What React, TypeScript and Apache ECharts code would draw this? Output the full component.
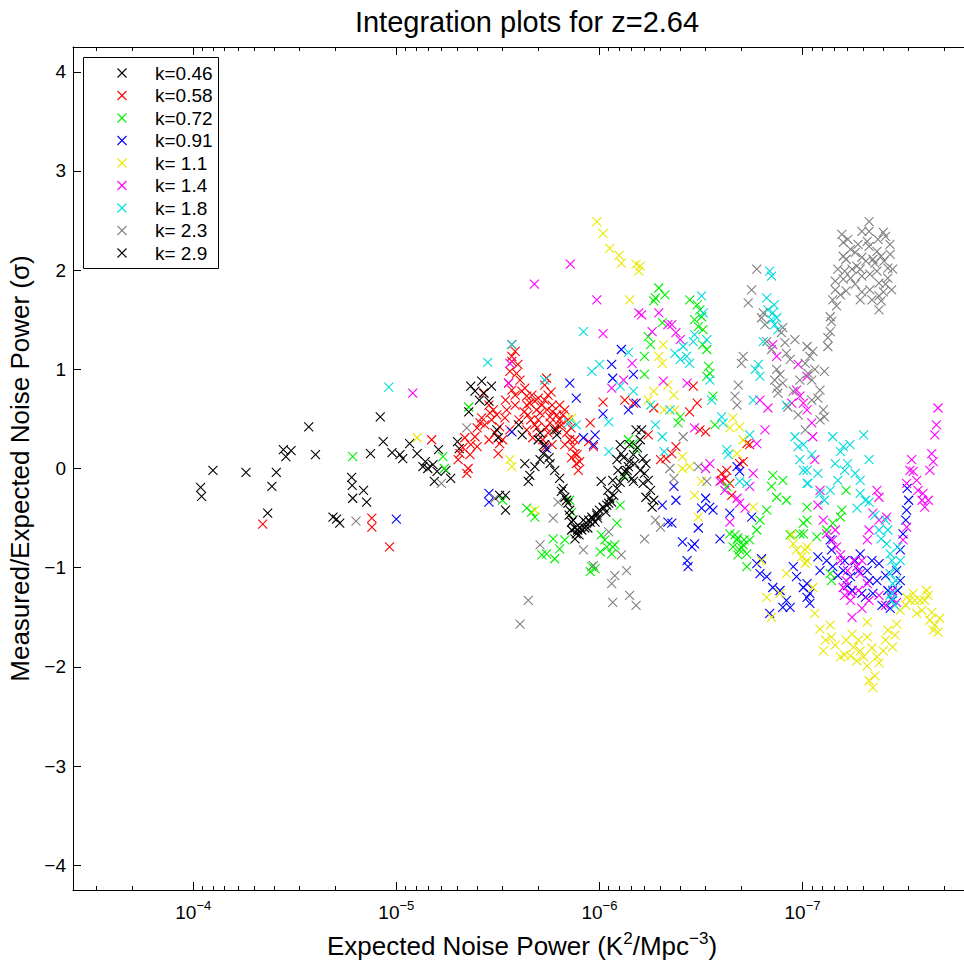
import React, { useEffect, useRef } from 'react';
import * as echarts from 'echarts';

const seriesNames = ['k=0.46', 'k=0.58', 'k=0.72', 'k=0.91', 'k= 1.1', 'k= 1.4', 'k= 1.8', 'k= 2.3', 'k= 2.9'];
const seriesColors = ['#000000', '#ff0000', '#00f000', '#0000ff', '#e8e800', '#ff00ff', '#00dcdc', '#808080', '#000000'];
const xMajorTicks = [1e-4, 1e-5, 1e-6, 1e-7];
const yTicks = [-4, -3, -2, -1, 0, 1, 2, 3, 4];

type Pt = [number, number];

const k046: Pt[] = [
  [9.2e-5, -0.19], [9.1e-5, -0.28], [8.0e-5, -0.02], [5.5e-5, -0.04], [3.9e-5, -0.04], [4.1e-5, -0.18], [4.3e-5, -0.45],
  [3.6e-5, 0.19], [3.3e-5, 0.18], [3.5e-5, 0.12], [2.7e-5, 0.42], [2.5e-5, 0.14], [1.66e-5, -0.09], [1.65e-5, -0.17],
  [1.45e-5, -0.22], [1.64e-5, -0.30], [1.4e-5, -0.34], [2.05e-5, -0.49], [1.97e-5, -0.51], [1.9e-5, -0.55], [1.2e-5, 0.52],
  [1.16e-5, 0.27], [1.34e-5, 0.15], [1.05e-5, 0.16], [9.6e-6, 0.14], [9.3e-6, 0.10], [8.6e-6, 0.25], [7.9e-6, 0.15],
  [7.2e-6, 0.07], [7.4e-6, 0.02], [7.0e-6, 0.0], [6.6e-6, 0.04], [6.3e-6, -0.03], [6.5e-6, -0.13], [6.2e-6, 0.19],
  [5.7e-6, -0.02], [5.4e-6, -0.10], [5.0e-6, 0.27], [4.9e-6, 0.20],
];

const k058: Pt[] = [
  [4.55e-5, -0.56], [1.32e-5, -0.50], [1.32e-5, -0.59], [1.08e-5, -0.79], [6.7e-6, 0.29], [2.7e-6, 1.25], [2.7e-6, 1.13],
  [2.8e-6, 0.86], [2.56e-6, 0.96], [2.46e-6, 0.89], [2.41e-6, 0.78], [2.28e-6, 0.73], [2.2e-6, 0.66], [2.08e-6, 0.68],
  [2.04e-6, 0.59], [1.96e-6, 0.56], [1.82e-6, 0.91], [1.86e-6, 0.84], [1.75e-6, 0.52], [1.62e-6, 0.54], [1.48e-6, 0.59],
  [2.86e-6, 0.59], [3.46e-6, 0.56], [3.73e-6, 0.76], [3.33e-6, 0.59], [9.6e-7, 0.67], [7.5e-7, 0.69], [6.8e-7, 0.66],
  [3.87e-6, 0.46], [4.0e-6, 0.41], [4.6e-6, 0.31], [4.3e-6, 0.24], [4.0e-6, 0.22], [4.86e-6, 0.15], [4.96e-6, 0.09],
  [4.43e-6, 0.0], [4.5e-6, -0.05], [3.1e-6, 0.42], [3.27e-6, 0.36], [3.1e-6, 0.25], [3.15e-6, 0.15], [2.08e-6, 0.44],
  [1.75e-6, 0.46], [1.62e-6, 0.39], [1.54e-6, 0.44], [1.45e-6, 0.36], [1.35e-6, 0.22], [1.32e-6, 0.15], [1.3e-6, 0.05],
  [1.27e-6, -0.02], [1.11e-6, 0.46], [1.13e-6, 0.27], [1.07e-6, 0.22], [1.86e-6, 0.69], [1.71e-6, 0.64], [1.57e-6, 0.49],
  [2.25e-6, 0.54], [2.0e-6, 0.49], [1.83e-6, 0.41], [1.4e-6, 0.29], [2.6e-6, 0.74], [2.9e-6, 0.69], [3.8e-6, 0.51],
  [3.5e-6, 0.64], [2.7e-6, 1.08], [2.76e-6, 0.98], [5.4e-7, 0.61], [3.6e-7, 0.57], [3.45e-7, 0.83], [3.3e-7, 0.66],
  [5.75e-7, 0.34], [4.7e-7, 0.10], [4.4e-7, 0.15], [4.2e-7, 0.22], [5.0e-7, 0.09], [3.2e-7, 0.39], [3.0e-7, 0.37],
  [2.5e-7, -0.05], [2.4e-7, -0.10], [2.36e-7, -0.02], [2.28e-7, -0.15], [2.04e-7, 0.05], [1.96e-7, 0.07], [1.82e-7, 0.24],
  [1.88e-7, 0.25], [2.5e-7, -0.12], [2.23e-7, -0.27],
  [2.6e-6, 1.18], [2.52e-6, 1.05], [2.7e-6, 0.79], [2.33e-6, 0.81], [2.15e-6, 0.74], [2.28e-6, 0.64], [2.0e-6, 0.71],
  [1.92e-6, 0.64], [1.79e-6, 0.74], [1.73e-6, 0.77], [1.81e-6, 0.59], [1.7e-6, 0.57], [1.57e-6, 0.64], [1.51e-6, 0.54],
  [1.43e-6, 0.49], [1.6e-6, 0.44], [1.79e-6, 0.36], [1.9e-6, 0.29], [2.03e-6, 0.41], [2.18e-6, 0.49], [2.35e-6, 0.57],
  [2.49e-6, 0.49], [2.6e-6, 0.64], [1.38e-6, 0.41], [1.32e-6, 0.29], [1.29e-6, 0.14], [1.25e-6, 0.07], [1.37e-6, 0.11],
  [1.86e-6, 0.21], [1.71e-6, 0.24], [1.48e-6, 0.24], [2.13e-6, 0.31], [2.28e-6, 0.39], [3.2e-6, 0.54], [3.67e-6, 0.44],
  [4.1e-6, 0.32], [4.34e-6, 0.14], [4.7e-6, 0.21], [3.5e-6, 0.29], [3.4e-6, 0.49], [2.92e-6, 0.51], [2.76e-6, 0.39],
  [3.0e-6, 0.29],
];

const k072: Pt[] = [
  [1.64e-5, 0.12], [4.4e-6, 0.62], [5.9e-6, 0.12], [5.8e-6, 0.0], [3.0e-6, -0.32], [2.28e-6, -0.40], [2.08e-6, -0.49],
  [2.16e-6, -0.44], [1.4e-6, -0.32], [1.37e-6, -0.44], [1.69e-6, -0.71], [1.57e-6, -0.81], [1.48e-6, -0.72], [1.92e-6, -0.87],
  [1.82e-6, -0.86], [1.66e-6, -0.91], [1.09e-6, -0.99], [1.05e-6, -1.01], [1.11e-6, -1.04], [9.8e-7, -0.67], [9.4e-7, -0.72],
  [9.9e-7, -0.84], [9.2e-7, -0.79], [8.6e-7, -0.79], [8.7e-7, -0.86], [8.2e-7, -0.55], [7.9e-7, -0.37], [8.4e-7, -0.77],
  [7.2e-7, 0.29], [6.8e-7, 0.25], [7.6e-7, -0.07], [6.6e-7, 0.19], [5.1e-7, 1.82], [5.3e-7, 1.72], [5.4e-7, 1.69],
  [4.9e-7, 1.47], [5.75e-7, 1.33], [5.6e-7, 1.25], [6.0e-7, 1.13], [6.0e-7, 0.95], [3.3e-7, 1.65], [3.2e-7, 1.60],
  [3.4e-7, 1.50], [3.26e-7, 1.43], [3.14e-7, 1.53], [3.1e-7, 1.25], [2.96e-7, 1.20], [2.9e-7, 1.03], [2.86e-7, 0.96],
  [2.96e-7, 0.93], [2.76e-7, 0.73], [4.0e-7, 0.52], [4.1e-7, 0.46], [2.7e-7, 0.44], [2.36e-7, -0.18], [1.4e-7, -0.07],
  [1.42e-7, -0.18], [1.25e-7, -0.12], [1.34e-7, -0.29], [1.2e-7, -0.32], [1.5e-7, -0.42], [1.62e-7, -0.52], [1.68e-7, -0.62],
  [2.1e-7, -0.72], [2.04e-7, -0.82], [2.2e-7, -0.79], [1.96e-7, -0.77], [1.88e-7, -0.86], [2.28e-7, -0.66], [1.88e-7, -0.99],
  [2.08e-7, -0.70], [1.94e-7, -0.72], [9.5e-8, -0.39], [9.9e-8, -0.55], [1.03e-7, -0.66], [1.15e-7, -0.67], [6.1e-8, -0.22],
  [6.5e-8, -0.49], [7.1e-8, -0.55], [7.6e-8, -0.62], [9.5e-8, -0.52], [9.9e-8, -0.66], [7.3e-8, -1.06], [7.2e-8, -1.13],
  [8.5e-8, -0.69], [6.4e-8, -0.42],
  [2.15e-7, -0.67], [1.99e-7, -0.80], [1.82e-7, -0.72], [2.08e-7, -0.87], [3.09e-7, 1.40], [3.59e-7, 1.70], [4.76e-7, 1.75],
];

const k091: Pt[] = [
  [1.0e-5, -0.51], [1.4e-6, 0.86], [1.3e-6, 0.71], [7.8e-7, 1.20], [8.7e-7, 1.05], [8.6e-7, 0.91], [6.8e-7, 0.95],
  [9.6e-7, 0.55], [7.2e-7, 0.59], [6.6e-7, 0.66], [2.7e-6, 0.37], [1.82e-6, 0.20], [1.2e-6, 0.31], [1.07e-6, 0.24],
  [1.05e-6, 0.34], [3.5e-6, -0.25], [3.5e-6, -0.34], [4.3e-7, -0.18], [4.2e-7, -0.32], [4.9e-7, -0.37], [4.6e-7, -0.54],
  [4.4e-7, -0.55], [3.26e-7, -0.60], [3.9e-7, -0.74], [3.5e-7, -0.79], [3.4e-7, -0.76], [3.7e-7, -0.93], [3.66e-7, -0.99],
  [3.0e-7, -0.30], [2.86e-7, -0.39], [2.76e-7, -0.42], [3.14e-7, -0.40], [2.55e-7, -0.71], [2.28e-7, -0.45], [2.1e-7, 0.02],
  [2.04e-7, -0.03], [1.78e-7, -0.49], [1.59e-7, -0.91], [1.68e-7, -0.96], [1.62e-7, -1.06], [1.5e-7, -1.09], [1.4e-7, -1.20],
  [1.29e-7, -1.23], [1.2e-7, -1.33], [1.25e-7, -1.40], [1.15e-7, -1.40], [1.45e-7, -1.46], [1.07e-7, -1.09], [9.9e-8, -1.20],
  [9.5e-8, -1.30], [1.11e-7, -0.99], [3.07e-8, -0.42], [3.1e-8, -0.52], [3.2e-8, -0.66], [3.3e-8, -0.82], [3.44e-8, -1.03],
  [3.6e-8, -1.33], [3.7e-8, -1.41], [4.2e-8, -0.96], [4.3e-8, -1.13], [4.5e-8, -1.26], [4.8e-8, -1.03], [5.2e-8, -0.86],
  [5.5e-8, -0.93], [5.8e-8, -1.09], [6.3e-8, -1.03], [7.1e-8, -0.99], [7.6e-8, -0.93], [8.2e-8, -1.03], [8.4e-8, -0.89],
  [7.3e-8, -0.72], [7.2e-8, -0.82], [9.5e-8, -1.16], [9.2e-8, -1.26], [9.2e-8, -1.36], [5.1e-8, -1.26], [4.9e-8, -1.30],
  [6.7e-8, -1.08], [6.0e-8, -1.18], [4.7e-8, -1.13], [3.9e-8, -1.08], [3.4e-8, -1.23], [3.0e-8, -0.32], [3.05e-8, -0.20],
  [6.2e-8, -0.93], [5.3e-8, -1.03], [4.55e-8, -0.93], [3.8e-8, -1.23], [3.3e-8, -1.13], [5.7e-8, -1.23], [4.06e-8, -1.38],
];

const k11: Pt[] = [
  [7.9e-6, 0.31], [1.03e-6, 2.49], [9.6e-7, 2.37], [8.9e-7, 2.22], [8.0e-7, 2.15], [7.8e-7, 2.07], [6.6e-7, 2.06],
  [6.4e-7, 1.99], [7.1e-7, 1.70], [1.37e-6, 0.51], [2.76e-6, 0.09], [2.7e-6, 0.02], [2.08e-6, -0.42], [6.3e-7, 2.04],
  [4.85e-7, 1.25], [5.1e-7, 1.13], [4.9e-7, 1.06], [4.6e-7, 0.84], [5.4e-7, 0.78], [5.75e-7, 0.69], [4.3e-7, 0.74],
  [4.8e-7, 0.59], [4.25e-7, 0.59], [2.2e-7, 0.51], [3.9e-7, 0.12], [3.6e-7, 0.02], [3.9e-7, 0.0], [3.4e-7, -0.27],
  [3.26e-7, -0.49], [3.14e-7, -0.13], [2.28e-7, 0.41], [2.04e-7, 0.42], [1.96e-7, 0.29], [2.1e-7, 0.15], [1.75e-7, -0.39],
  [1.59e-7, -0.93], [1.5e-7, -1.30], [1.42e-7, -1.50], [1.29e-7, -1.26], [1.2e-7, -1.06], [1.13e-7, -0.67], [1.11e-7, -0.76],
  [1.07e-7, -0.82], [1.01e-7, -0.89], [9.5e-8, -0.79], [9.7e-8, -0.96], [9.7e-8, -0.82], [9.5e-8, -0.93], [8.9e-8, -1.20],
  [8.7e-8, -1.46], [8.2e-8, -1.62], [7.3e-8, -1.58], [7.2e-8, -1.70], [7.9e-8, -1.84], [6.5e-8, -1.90], [6.1e-8, -1.73],
  [5.6e-8, -1.80], [5.2e-8, -1.84], [4.8e-8, -1.70], [5.0e-8, -1.90], [4.3e-8, -1.90], [4.0e-8, -1.84], [3.6e-8, -1.80],
  [3.8e-8, -1.63], [3.44e-8, -1.57], [3.3e-8, -1.43], [3.07e-8, -1.30], [2.85e-8, -1.26], [2.64e-8, -1.33], [2.74e-8, -1.46],
  [2.45e-8, -1.23], [2.36e-8, -1.53], [2.27e-8, -1.63], [4.7e-8, -2.14], [4.5e-8, -2.21], [5.7e-8, -1.67], [4.8e-8, -1.55],
  [2.23e-8, -1.58], [2.15e-8, -1.65], [2.5e-8, -1.33], [2.96e-8, -1.33], [6.2e-8, -1.88], [5.4e-8, -1.94], [4.2e-8, -1.96],
  [4.8e-8, -1.99],
  [6.9e-8, -1.78], [5.8e-8, -1.89], [5.3e-8, -1.73], [4.55e-8, -1.81], [3.9e-8, -1.73], [3.5e-8, -1.68], [3.1e-8, -1.38],
  [2.8e-8, -1.33], [2.58e-8, -1.43], [2.41e-8, -1.28], [2.31e-8, -1.45], [2.11e-8, -1.51], [4.4e-8, -2.09], [7.7e-8, -1.73],
];

const k14: Pt[] = [
  [8.3e-6, 0.76], [1.39e-6, 2.06], [2.09e-6, 1.86], [1.03e-6, 1.70], [9.6e-7, 1.36], [6.4e-7, 1.57], [2.76e-6, 1.06],
  [2.8e-6, 0.86], [8.7e-7, 0.81], [7.6e-7, 0.89], [6.9e-7, 1.06], [6.2e-7, 1.55], [5.1e-7, 1.57], [5.5e-7, 1.38],
  [4.6e-7, 1.45], [4.4e-7, 1.45], [4.2e-7, 1.37], [4.0e-7, 1.30], [4.85e-7, 0.88], [3.7e-7, 0.86], [1.62e-7, 0.69],
  [1.48e-7, 0.61], [1.4e-7, 1.25], [1.34e-7, 1.13], [1.05e-7, 1.05], [1.07e-7, 0.79], [1.03e-7, 0.73], [1.13e-7, 0.66],
  [9.5e-8, 0.93], [3.4e-7, 0.41], [3.0e-7, 0.0], [2.86e-7, 0.05], [2.55e-7, -0.13], [2.41e-7, -0.22], [2.04e-7, -0.35],
  [1.92e-7, -0.40], [1.82e-7, -0.18], [1.75e-7, -0.05], [1.68e-7, 0.25], [1.53e-7, 0.39], [2.28e-7, -0.54], [2.1e-7, -0.30],
  [9.9e-8, 0.66], [9.5e-8, 0.59], [2.15e-8, 0.61], [9.0e-8, 0.46], [8.9e-8, 0.32], [8.7e-8, 0.09], [2.19e-8, 0.44],
  [2.23e-8, 0.34], [2.31e-8, 0.15], [2.27e-8, 0.07], [2.9e-8, 0.09], [2.85e-8, -0.03], [3.07e-8, -0.15], [2.74e-8, -0.12],
  [2.55e-8, -0.25], [2.4e-8, -0.32], [2.5e-8, -0.39], [4.3e-8, -0.22], [4.2e-8, -0.29], [4.5e-8, -0.45], [4.7e-8, -0.62],
  [4.8e-8, -0.72], [4.2e-8, -0.52], [3.85e-8, -0.49], [7.9e-8, -0.52], [7.6e-8, -0.66], [7.1e-8, -0.72], [6.8e-8, -0.79],
  [5.6e-8, -0.93], [5.4e-8, -0.99], [5.2e-8, -1.06], [6.1e-8, -1.13], [6.3e-8, -1.20], [5.8e-8, -1.26], [5.8e-8, -1.33],
  [5.7e-8, -1.50], [5.1e-8, -1.41], [4.8e-8, -1.16], [3.6e-8, -1.23], [3.64e-8, -1.31], [3.44e-8, -1.35], [3.2e-8, -0.72],
  [3.07e-8, -0.59], [8.2e-8, -0.22], [8.4e-8, -0.37], [6.5e-8, -0.93], [6.2e-8, -1.28],
  [2.7e-8, -0.22], [2.58e-8, -0.32], [2.96e-8, -0.02], [2.36e-8, -0.02], [6.5e-8, -0.87], [6.0e-8, -1.03], [5.3e-8, -1.23],
  [4.7e-8, -1.33], [4.2e-8, -1.28], [3.9e-8, -1.38], [5.1e-8, -0.93], [6.9e-8, -0.62],
];

const k18: Pt[] = [
  [1.09e-5, 0.82], [3.55e-6, 1.07], [1.2e-6, 1.38], [1.09e-6, 0.98], [1.0e-6, 1.05], [7.2e-7, 1.17], [6.8e-7, 0.78],
  [7.9e-7, 0.83], [2.7e-6, 1.25], [1.86e-6, 0.89], [1.42e-6, 0.46], [1.3e-6, 0.44], [9.0e-7, 0.17], [9.0e-7, 0.47],
  [3.14e-7, 1.74], [3.08e-7, 1.57], [2.96e-7, 1.30], [4.25e-7, 1.16], [3.87e-7, 1.23], [4.0e-7, 1.10], [3.72e-7, 1.13],
  [3.6e-7, 1.06], [3.4e-7, 1.35], [3.45e-7, 1.28], [2.86e-7, 0.89], [2.8e-7, 0.69], [4.5e-7, 0.59], [1.45e-7, 1.99],
  [1.42e-7, 1.94], [1.5e-7, 1.72], [1.48e-7, 1.60], [1.4e-7, 1.57], [1.34e-7, 1.52], [1.42e-7, 1.50], [1.37e-7, 1.45],
  [1.56e-7, 1.28], [1.65e-7, 1.05], [1.71e-7, 1.00], [1.62e-7, 0.93], [1.75e-7, 0.69], [1.2e-7, 0.64], [2.5e-7, 0.52],
  [5.6e-7, 0.64], [5.3e-7, 0.44], [4.9e-7, 0.32], [4.8e-7, 0.17], [2.36e-7, 0.19], [2.32e-7, 0.14], [2.46e-7, 0.46],
  [2.04e-7, -0.13], [1.88e-7, -0.15], [1.82e-7, 0.34], [1.09e-7, 0.32], [1.05e-7, 0.22], [1.03e-7, 0.09], [9.9e-8, -0.02],
  [9.5e-8, -0.15], [5.0e-8, 0.34], [7.1e-8, 0.32], [6.5e-8, 0.17], [6.3e-8, 0.22], [6.9e-8, 0.05], [6.0e-8, 0.05],
  [5.5e-8, -0.05], [5.2e-8, -0.12], [4.7e-8, 0.09], [8.4e-8, -0.05], [9.5e-8, -0.02], [9.4e-8, -0.15], [8.2e-8, -0.25],
  [7.8e-8, -0.32], [7.3e-8, -0.22], [5.4e-8, -0.40], [5.2e-8, -0.25], [4.7e-8, -0.34], [4.2e-8, -0.62], [4.1e-8, -0.71],
  [3.85e-8, -0.76], [3.9e-8, -0.52], [3.7e-8, -0.86], [3.5e-8, -0.99], [3.6e-8, -1.16], [3.6e-8, -1.26], [3.64e-8, -1.33],
  [3.4e-8, -0.79], [3.3e-8, -0.93], [3.7e-8, -1.06], [9.9e-8, 0.24], [9.0e-8, 0.14],
  [3.8e-8, -0.62], [3.63e-8, -0.93], [3.47e-8, -1.13], [3.71e-8, -1.28], [3.51e-8, -1.38], [5.84e-8, 0.24], [6.2e-8, -0.02],
  [6.7e-8, -0.12], [4.9e-8, -0.32], [4.4e-8, -0.47], [1.38e-7, 1.65], [1.32e-7, 1.40],
];

const k23: Pt[] = [
  [1.58e-5, -0.53], [4.5e-6, 0.41], [6.0e-6, -0.15], [3.27e-6, -0.30], [1.69e-6, -0.50], [1.6e-6, -0.34], [1.96e-6, -0.77],
  [1.2e-6, -0.82], [1.07e-6, -0.98], [7.8e-7, -0.87], [8.4e-7, -1.08], [8.7e-7, -1.16], [7.35e-7, -1.03], [7.1e-7, -1.28],
  [8.6e-7, -1.35], [6.6e-7, -1.38], [2.24e-6, -1.33], [2.46e-6, -1.57], [9.0e-7, -0.64], [6.0e-7, -0.71], [5.3e-7, -0.52],
  [5.0e-7, -0.59], [4.5e-7, 0.0], [4.3e-7, -0.10], [3.26e-7, 0.02], [2.96e-7, -0.13], [3.87e-7, 0.32], [1.68e-7, 2.01],
  [1.78e-7, 1.80], [1.85e-7, 1.67], [1.56e-7, 1.57], [1.59e-7, 1.52], [1.53e-7, 1.45], [1.25e-7, 1.42], [1.27e-7, 1.37],
  [1.22e-7, 1.27], [1.5e-7, 1.28], [1.42e-7, 1.20], [1.2e-7, 1.16], [1.96e-7, 1.13], [2.0e-7, 1.06], [1.34e-7, 1.00],
  [1.29e-7, 0.95], [1.37e-7, 0.89], [1.25e-7, 0.86], [1.34e-7, 0.81], [1.32e-7, 0.76], [2.07e-7, 0.84], [2.15e-7, 0.73],
  [2.1e-7, 0.64], [1.18e-7, 0.62], [1.11e-7, 0.78], [9.5e-8, 1.23], [9.7e-8, 1.06], [4.7e-8, 2.49], [6.4e-8, 2.36],
  [6.3e-8, 2.28], [4.7e-8, 2.39], [4.8e-8, 2.29], [4.0e-8, 2.38], [3.9e-8, 2.34], [4.7e-8, 2.24], [5.8e-8, 2.21],
  [5.5e-8, 2.18], [6.1e-8, 2.11], [6.3e-8, 2.14], [4.3e-8, 2.19], [4.1e-8, 2.14], [3.7e-8, 2.16], [4.5e-8, 2.11],
  [4.4e-8, 2.07], [5.4e-8, 2.04], [5.2e-8, 2.01], [6.7e-8, 2.01], [3.8e-8, 2.02], [5.1e-8, 1.94], [6.9e-8, 1.89],
  [6.3e-8, 1.91], [5.8e-8, 1.92], [3.8e-8, 1.92], [3.64e-8, 1.80], [4.2e-8, 1.87], [6.9e-8, 1.80], [6.1e-8, 1.79],
  [5.1e-8, 1.78], [4.2e-8, 1.74], [4.1e-8, 1.69], [4.2e-8, 1.60], [7.1e-8, 1.70], [6.8e-8, 1.64], [7.3e-8, 1.53],
  [7.2e-8, 1.48], [7.3e-8, 1.38], [7.5e-8, 1.32], [7.5e-8, 1.23], [8.9e-8, 1.18], [9.2e-8, 1.13], [7.8e-8, 0.98],
  [9.4e-8, 0.96], [9.0e-8, 0.89], [8.2e-8, 0.79], [8.4e-8, 0.71], [7.9e-8, 0.59], [7.8e-8, 0.52],
  [5.98e-8, 2.31], [5.33e-8, 2.26], [5.1e-8, 2.13], [4.87e-8, 2.09], [5.7e-8, 2.01], [6.2e-8, 1.99], [4.66e-8, 1.96],
  [4.3e-8, 1.99], [3.97e-8, 2.09], [3.71e-8, 2.26], [4.25e-8, 2.31], [5.1e-8, 2.39], [5.5e-8, 1.86], [4.66e-8, 1.80],
  [6.5e-8, 1.75], [3.9e-8, 1.86], [3.6e-8, 2.01], [4.55e-8, 1.70], [4.0e-8, 1.78], [5.2e-8, 1.70],
  [1.09e-7, 1.30], [1.15e-7, 1.10], [1.03e-7, 0.89], [8.7e-8, 1.00], [9.0e-8, 0.69], [8.2e-8, 0.49], [9.7e-8, 0.39],
  [1.05e-7, 0.54],
];

const k29: Pt[] = [
  [4.3e-6, 0.83], [3.8e-6, 0.88], [3.4e-6, 0.83], [4.1e-6, 0.78], [3.7e-6, 0.76], [3.9e-6, 0.69], [3.5e-6, 0.68],
  [4.4e-6, 0.57], [2.5e-6, 0.44], [2.4e-6, 0.34], [3.2e-6, 0.39], [3.15e-6, 0.31], [1.96e-6, 0.36], [1.66e-6, 0.39],
  [1.62e-6, 0.34], [1.89e-6, 0.15], [1.96e-6, 0.09], [2.08e-6, 0.02], [2.2e-6, -0.07], [2.24e-6, -0.13], [2.33e-6, 0.05],
  [1.75e-6, 0.05], [1.57e-6, -0.10], [1.54e-6, -0.23], [1.48e-6, -0.29], [1.4e-6, -0.42], [1.35e-6, -0.52], [1.37e-6, -0.62],
  [1.3e-6, -0.66], [1.25e-6, -0.59], [1.16e-6, -0.55], [1.09e-6, -0.49], [1.03e-6, -0.45], [9.6e-7, -0.39], [9.0e-7, -0.35],
  [8.7e-7, -0.34], [1.32e-6, -0.71], [1.2e-6, -0.52], [1.05e-6, -0.54], [1.0e-6, -0.42], [2.9e-6, -0.27], [2.9e-6, -0.42],
  [3.1e-6, -0.27], [9.8e-7, -0.13], [8.6e-7, -0.12], [8.2e-7, 0.09], [7.8e-7, 0.15], [7.2e-7, 0.02], [6.9e-7, -0.10],
  [6.8e-7, -0.13], [7.9e-7, 0.24], [6.6e-7, 0.39], [6.7e-7, 0.05], [6.3e-7, -0.02], [7.5e-7, -0.03], [6.1e-7, 0.10],
  [5.9e-7, 0.05], [6.0e-7, -0.05], [5.75e-7, -0.12], [6.1e-7, -0.15], [5.6e-7, -0.22], [5.9e-7, -0.29], [5.4e-7, -0.32],
  [5.5e-7, -0.39], [6.2e-7, 0.39], [1.28e-6, -0.62], [1.14e-6, -0.60], [1.02e-6, -0.50], [9.3e-7, -0.44], [1.11e-6, -0.54],
  [1.43e-6, -0.35],
  [1.51e-6, -0.20], [1.45e-6, -0.32], [1.41e-6, -0.47], [1.37e-6, -0.54], [1.32e-6, -0.60], [1.26e-6, -0.67], [1.22e-6, -0.62],
  [1.18e-6, -0.60], [1.13e-6, -0.52], [1.08e-6, -0.51], [1.03e-6, -0.47], [9.5e-7, -0.40], [9.2e-7, -0.37], [8.9e-7, -0.30],
  [8.5e-7, -0.27], [8.2e-7, -0.20], [7.9e-7, -0.14], [7.6e-7, -0.08], [7.3e-7, -0.02], [7.1e-7, 0.07], [6.8e-7, 0.14],
  [6.5e-7, 0.21], [6.3e-7, 0.29], [7.1e-7, 0.24], [7.6e-7, 0.11], [8.1e-7, -0.02], [9.1e-7, -0.22], [1.66e-6, -0.02],
  [1.77e-6, 0.11], [1.86e-6, 0.24], [2.0e-6, 0.29],
];

const allSeries: Pt[][] = [k046, k058, k072, k091, k11, k14, k18, k23, k29];

const X_MIN = 1.48e-8;
const X_MAX = 3.91e-4;
const FONT = '"Liberation Sans", Arial, Helvetica, sans-serif';
const CROSS = 'path://M0,0L10,10M10,0L0,10';

function expLabel(v: number): string {
  const e = Math.round(Math.log10(v));
  return '10{sup|' + (e < 0 ? '\u2212' + Math.abs(e) : String(e)) + '}';
}

export default function App() {
  const ref = useRef<HTMLDivElement>(null);
  useEffect(() => {
    document.body.style.margin = '0';
    if (!ref.current) return;
    const chart = echarts.init(ref.current, undefined, { renderer: 'svg' });

    const minorTicks: number[] = [];
    for (let e = -8; e <= -4; e++) {
      for (let m = 2; m <= 9; m++) {
        const v = m * Math.pow(10, e);
        if (v > X_MIN && v < X_MAX) minorTicks.push(v);
      }
    }
    const lineStyle = { color: '#000', width: 1 };
    const baseX = {
      type: 'log',
      logBase: 10,
      inverse: true,
      min: X_MIN,
      max: X_MAX,
      gridIndex: 0,
      splitLine: { show: false },
      minorTick: { show: false },
      minorSplitLine: { show: false },
    };

    // legend drawn as a boxed list (frame, coloured cross, label) in the top-left corner
    const legendBox = { x: 83, y: 57, w: 135, h: 211, first: 73, step: 22.5, markX: 122, textX: 155, half: 4.5 };
    const legendChildren: any[] = [
      {
        type: 'rect',
        shape: { x: legendBox.x + 0.5, y: legendBox.y + 0.5, width: legendBox.w, height: legendBox.h },
        style: { fill: '#fff', stroke: '#000', lineWidth: 1 },
      },
    ];
    seriesNames.forEach((n, i) => {
      const cy = legendBox.first + i * legendBox.step;
      const c = seriesColors[i];
      const h = legendBox.half;
      legendChildren.push(
        { type: 'line', shape: { x1: legendBox.markX - h, y1: cy - h, x2: legendBox.markX + h, y2: cy + h }, style: { stroke: c, lineWidth: 1.1 } },
        { type: 'line', shape: { x1: legendBox.markX + h, y1: cy - h, x2: legendBox.markX - h, y2: cy + h }, style: { stroke: c, lineWidth: 1.1 } },
        {
          type: 'text',
          style: { text: n, x: legendBox.textX, y: cy, verticalAlign: 'middle', fontFamily: FONT, fontSize: 19, fill: '#000' },
        },
      );
    });

    chart.setOption({
      animation: false,
      backgroundColor: '#ffffff',
      title: {
        text: 'Integration plots for z=2.64',
        left: 522,
        top: 2,
        textAlign: 'center',
        textStyle: { fontFamily: FONT, fontSize: 29, fontWeight: 'normal', color: '#000' },
      },
      grid: { left: 73, top: 47, width: 898, height: 843, containLabel: false, outerBoundsMode: 'none' },
      graphic: [{ type: 'group', z: 100, children: legendChildren }],
      xAxis: [
        {
          ...baseX,
          position: 'bottom',
          axisLine: { show: true, onZero: false, lineStyle },
          axisTick: { show: true, inside: true, length: 8, customValues: xMajorTicks, lineStyle },
          axisLabel: {
            customValues: xMajorTicks,
            formatter: (v: number) => expLabel(v),
            fontFamily: FONT,
            fontSize: 19,
            lineHeight: 26,
            color: '#000',
            margin: 9,
            rich: { sup: { fontFamily: FONT, fontSize: 13, color: '#000', verticalAlign: 'top', lineHeight: 14 } },
          },
          name: 'Expected Noise Power (K{sup|2}/Mpc{sup|\u22123})',
          nameLocation: 'middle',
          nameGap: 33,
          nameTextStyle: {
            fontFamily: FONT,
            fontSize: 26,
            color: '#000',
            lineHeight: 32,
            rich: { sup: { fontFamily: FONT, fontSize: 17, color: '#000', verticalAlign: 'top', lineHeight: 18 } },
          },
        },
        {
          ...baseX,
          position: 'bottom',
          axisLine: { show: false, onZero: false },
          axisTick: { show: true, inside: true, length: 4, customValues: minorTicks, lineStyle },
          axisLabel: { show: false },
        },
        {
          ...baseX,
          position: 'top',
          axisLine: { show: true, onZero: false, lineStyle },
          axisTick: { show: true, inside: true, length: 8, customValues: xMajorTicks, lineStyle },
          axisLabel: { show: false },
        },
        {
          ...baseX,
          position: 'top',
          axisLine: { show: false, onZero: false },
          axisTick: { show: true, inside: true, length: 4, customValues: minorTicks, lineStyle },
          axisLabel: { show: false },
        },
      ],
      yAxis: [
        {
          type: 'value',
          min: -4.25,
          max: 4.25,
          position: 'left',
          gridIndex: 0,
          axisLine: { show: true, onZero: false, lineStyle },
          axisTick: { show: true, inside: true, length: 8, customValues: yTicks, lineStyle },
          axisLabel: {
            customValues: yTicks,
            formatter: (v: number) => (v < 0 ? '\u2212' + Math.abs(v) : String(v)),
            fontFamily: FONT,
            fontSize: 19,
            color: '#000',
            margin: 7,
          },
          splitLine: { show: false },
          name: 'Measured/Expected Noise Power (\u03c3)',
          nameLocation: 'middle',
          nameRotate: 90,
          nameGap: 37,
          nameTextStyle: { fontFamily: FONT, fontSize: 26, color: '#000', lineHeight: 26 },
        },
      ],
      series: allSeries.map((d, i) => ({
        type: 'scatter',
        name: seriesNames[i],
        data: d,
        xAxisIndex: 0,
        yAxisIndex: 0,
        symbol: CROSS,
        symbolSize: 9,
        silent: true,
        itemStyle: { color: 'none', borderColor: seriesColors[i], borderWidth: 1.1, opacity: 1 },
        emphasis: { disabled: true },
      })),
    });
    return () => chart.dispose();
  }, []);
  return <div ref={ref} style={{ width: 964, height: 961 }} />;
}
